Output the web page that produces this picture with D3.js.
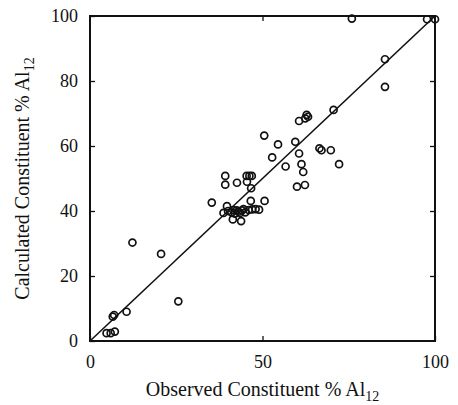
<!DOCTYPE html>
<html>
<head>
<meta charset="utf-8">
<script src="https://cdn.jsdelivr.net/npm/d3@7"></script>
<style>
  body { margin: 0; background: #fff; }
  svg text { font-family: "Liberation Serif", "Times New Roman", serif; fill: #111; }
</style>
</head>
<body>
<div id="chart"></div>
<script>
// observed vs calculated constituent % Al12
const observed = [
  75.9, 97.7, 100, 85.5, 85.5, 70.6,
  60.6, 62.4, 63.2, 62.8, 50.5, 54.5, 59.5, 52.8, 60.6, 66.5, 67.1, 69.8,
  56.7, 61.3, 61.8, 72.2, 60.0, 62.3,
  39.2, 39.2, 42.6, 45.4, 46.2, 46.9, 45.5, 46.7,
  35.3, 46.6, 50.6, 39.7, 38.7,
  40.0, 41.0, 42.0, 43.0, 44.0, 45.0, 46.0, 47.0, 48.0, 49.0, 44.5, 42.5, 43.5, 41.5,
  41.4, 43.8,
  12.3, 20.6, 25.6, 10.6, 6.6, 7.0, 4.8, 6.0, 7.2
];
const calculated = [
  99.2, 99.0, 99.0, 86.7, 78.2, 71.1,
  67.7, 68.5, 69.0, 69.6, 63.2, 60.5, 61.3, 56.5, 57.7, 59.3, 58.7, 58.7,
  53.7, 54.4, 52.0, 54.4, 47.5, 48.0,
  50.8, 48.1, 48.7, 50.8, 50.8, 50.8, 49.0, 47.0,
  42.6, 43.1, 43.1, 41.5, 39.4,
  40.0, 39.6, 39.2, 39.8, 40.2, 39.6, 40.3, 40.5, 40.6, 40.4, 40.6, 40.2, 39.4, 40.3,
  37.4, 36.9,
  30.3, 26.8, 12.2, 9.0, 7.5, 8.0, 2.4, 2.4, 2.9
];
const xTicks = [0, 50, 100];
const yTicks = [0, 20, 40, 60, 80, 100];
const fitLine = [0, 100];

const margin = { top: 16, right: 23, bottom: 64, left: 90 };
const width = 458 - margin.left - margin.right;
const height = 405 - margin.top - margin.bottom;

const svg = d3.select('#chart')
    .append('svg')
    .attr('width', width + margin.left + margin.right)
    .attr('height', height + margin.top + margin.bottom)
    .append('g')
    .attr('transform', `translate(${margin.left},${margin.top})`);

const xScale = d3.scaleLinear().domain([0, 100]).range([0, width]);
const yScale = d3.scaleLinear().domain([0, 100]).range([height, 0]);

// axes with inward ticks
const styleAxis = g => {
  g.select('.domain').remove();
  g.selectAll('.tick line').attr('stroke', '#111').attr('stroke-width', 1.3);
  g.selectAll('.tick text').attr('font-size', 18);
};

svg.append('g')
    .attr('transform', `translate(0,${height})`)
    .call(d3.axisBottom(xScale).tickValues(xTicks).tickSize(-5).tickPadding(14))
    .call(styleAxis);

svg.append('g')
    .call(d3.axisLeft(yScale).tickValues(yTicks).tickSize(-5).tickPadding(12))
    .call(styleAxis);

svg.append('g')
    .call(d3.axisTop(xScale).tickValues([50]).tickSize(-5).tickFormat(''))
    .call(styleAxis);

svg.append('g')
    .attr('transform', `translate(${width},0)`)
    .call(d3.axisRight(yScale).tickValues([20, 40, 60, 80]).tickSize(-5).tickFormat(''))
    .call(styleAxis);

// frame
svg.append('rect')
    .attr('width', width)
    .attr('height', height)
    .attr('fill', 'none')
    .attr('stroke', '#111')
    .attr('stroke-width', 2);

// 1:1 line
svg.append('line')
    .attr('x1', xScale(fitLine[0]))
    .attr('y1', yScale(fitLine[0]))
    .attr('x2', xScale(fitLine[1]))
    .attr('y2', yScale(fitLine[1]))
    .attr('stroke', '#111')
    .attr('stroke-width', 1.6);

svg.selectAll('circle.pt')
    .data(d3.range(observed.length))
    .join('circle')
    .attr('class', 'pt')
    .attr('cx', i => xScale(observed[i]))
    .attr('cy', i => yScale(calculated[i]))
    .attr('r', 3.5)
    .attr('fill', 'none')
    .attr('stroke', '#111')
    .attr('stroke-width', 1.7);

// axis titles
const xTitle = svg.append('text')
    .attr('x', width / 2)
    .attr('y', height + 55)
    .attr('text-anchor', 'middle')
    .attr('font-size', 20);
xTitle.append('tspan').text('Observed Constituent % Al');
xTitle.append('tspan').attr('dy', 5).attr('font-size', 14).text('12');

const yTitle = svg.append('text')
    .attr('transform', `translate(${-61},${height / 2}) rotate(-90)`)
    .attr('text-anchor', 'middle')
    .attr('font-size', 20);
yTitle.append('tspan').text('Calculated Constituent % Al');
yTitle.append('tspan').attr('dy', 5).attr('font-size', 14).text('12');
</script>
</body>
</html>
